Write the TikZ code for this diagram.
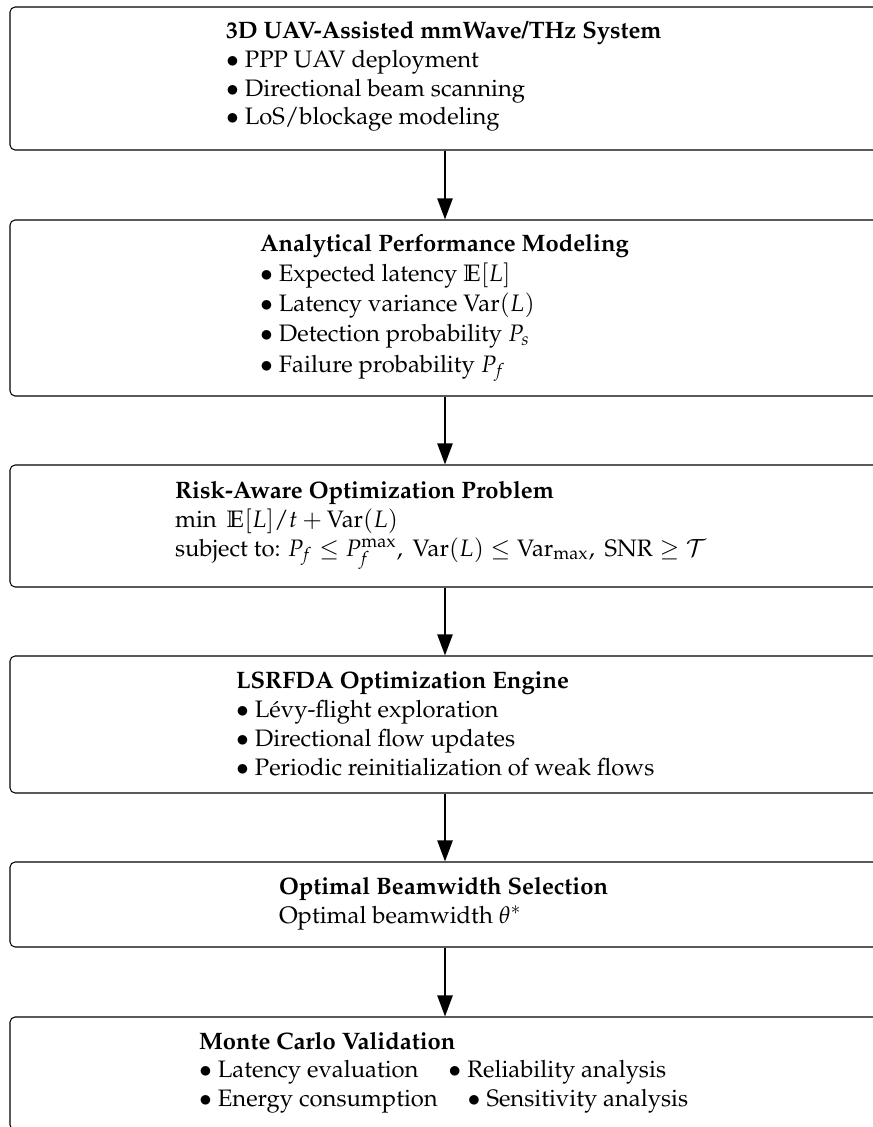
\documentclass[tikz,border=0pt]{standalone}
\usepackage[T1]{fontenc}
\usepackage{amsmath}
\usepackage{mathpazo}
\usepackage{amssymb}
\usetikzlibrary{arrows.meta}
\tikzset{
  box/.style={draw=black, line width=0.45pt, rounded corners=2.2pt, minimum width=372.9pt, inner sep=0pt},
  txt/.style={anchor=base west, align=left, inner sep=0pt, outer sep=0pt},
  arr/.style={line width=0.8pt, -{Triangle[length=9pt,width=6.5pt]}}
}
\begin{document}
\begin{tikzpicture}[x=0.4286pt, y=-0.4286pt]
\useasboundingbox (0,0) rectangle (872,1127);
% boxes
\node[box, minimum height=143*0.4286pt] (b1) at (445,78.5) {};
\node[box, minimum height=176*0.4286pt] (b2) at (445,308) {};
\node[box, minimum height=122*0.4286pt] (b3) at (445,526) {};
\node[box, minimum height=137*0.4286pt] (b4) at (445,724.5) {};
\node[box, minimum height=85*0.4286pt] (b5) at (445,904.5) {};
\node[box, minimum height=113*0.4286pt] (b6) at (445,1073.5) {};
% texts (anchored at the baseline of the last line)
\node[txt, font=\fontsize{10.2}{12.26}\selectfont] (t1) at (226,124.8) {%
\textbf{3D UAV-Assisted mmWave/THz System}\\
$\bullet$ PPP UAV deployment\\
$\bullet$ Directional beam scanning\\
$\bullet$ LoS/blockage modeling};
\node[txt, font=\fontsize{10.2}{12.86}\selectfont] (t2) at (260,372) {%
\textbf{Analytical Performance Modeling}\\
$\bullet$ Expected latency $\mathbb{E}[L]$\\
$\bullet$ Latency variance $\mathrm{Var}(L)$\\
$\bullet$ Detection probability $P_s$\\
$\bullet$ Failure probability $P_f$};
\node[txt, font=\fontsize{10.2}{12.43}\selectfont] (t3) at (175,556) {%
\textbf{Risk-Aware Optimization Problem}\\
$\min\ \mathbb{E}[L]/t + \mathrm{Var}(L)$\\
subject to: $P_f \le P_f^{\max},\ \mathrm{Var}(L) \le \mathrm{Var}_{\max},\ \mathrm{SNR} \ge \mathcal{T}$};
\node[txt, font=\fontsize{10.2}{12.43}\selectfont] (t4) at (236,775) {%
\textbf{LSRFDA Optimization Engine}\\
$\bullet$ L\'evy-flight exploration\\
$\bullet$ Directional flow updates\\
$\bullet$ Periodic reinitialization of weak flows};
\node[txt, font=\fontsize{10.2}{12.43}\selectfont] (t5) at (279,923) {%
\textbf{Optimal Beamwidth Selection}\\
Optimal beamwidth $\theta^*$};
\node[txt, font=\fontsize{10.2}{12.2}\selectfont] (t6) at (199,1106) {%
\textbf{Monte Carlo Validation}\\
$\bullet$ Latency evaluation \quad $\bullet$ Reliability analysis\\
$\bullet$ Energy consumption \quad $\bullet$ Sensitivity analysis};
% arrows
\draw[arr] (b1) -- (b2);
\draw[arr] (b2) -- (b3);
\draw[arr] (b3) -- (b4);
\draw[arr] (b4) -- (b5);
\draw[arr] (b5) -- (b6);
\end{tikzpicture}
\end{document}
